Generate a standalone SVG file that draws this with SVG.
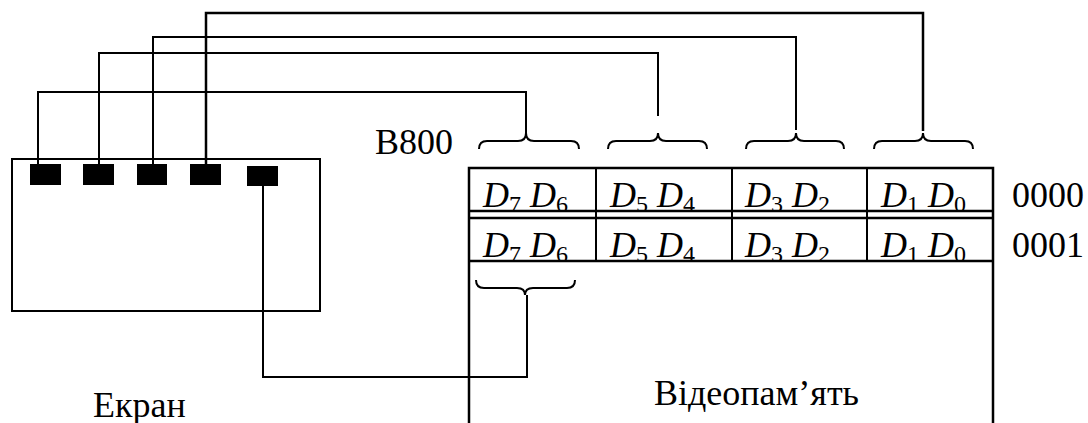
<svg xmlns="http://www.w3.org/2000/svg" width="1088" height="423" viewBox="0 0 1088 423">
<style>
.ln{fill:none;stroke:#000;stroke-width:2}
.tb{fill:none;stroke:#000;stroke-width:2.5}
.br{fill:none;stroke:#000;stroke-width:2}
.t{font-family:"Liberation Serif","Times New Roman",serif;font-size:36px;fill:#000}
.i{font-style:italic}
.s{font-size:24px;font-style:normal}
.sq{fill:#000}
</style>
<rect width="1088" height="423" fill="#fff"/>
<g id="screen">
<rect x="12" y="159" width="308" height="152" class="ln"/>
<rect x="30" y="164" width="31" height="21" class="sq"/>
<rect x="83" y="164" width="31" height="21" class="sq"/>
<rect x="137" y="164" width="30" height="21" class="sq"/>
<rect x="190" y="164" width="31" height="21" class="sq"/>
<rect x="247" y="166" width="31" height="20" class="sq"/>
<text x="93" y="417" class="t">Екран</text>
</g>
<g id="memory">
<path d="M469,423 V168 H993 V423" class="tb"/>
<line x1="469" y1="211" x2="993" y2="211" class="tb"/>
<line x1="469" y1="218" x2="993" y2="218" class="tb"/>
<line x1="469" y1="261" x2="993" y2="261" class="tb"/>
<line x1="596" y1="168" x2="596" y2="261" class="ln"/>
<line x1="732" y1="168" x2="732" y2="261" class="ln"/>
<line x1="867" y1="168" x2="867" y2="261" class="ln"/>
<text x="375" y="154" class="t">B800</text>
<text y="207" class="t"><tspan x="483" class="i">D</tspan><tspan class="s" dy="5">7</tspan><tspan class="i" dy="-5"> D</tspan><tspan class="s" dy="5">6</tspan></text>
<text y="207" class="t"><tspan x="610" class="i">D</tspan><tspan class="s" dy="5">5</tspan><tspan class="i" dy="-5"> D</tspan><tspan class="s" dy="5">4</tspan></text>
<text y="207" class="t"><tspan x="745" class="i">D</tspan><tspan class="s" dy="5">3</tspan><tspan class="i" dy="-5"> D</tspan><tspan class="s" dy="5">2</tspan></text>
<text y="207" class="t"><tspan x="881" class="i">D</tspan><tspan class="s" dy="5">1</tspan><tspan class="i" dy="-5"> D</tspan><tspan class="s" dy="5">0</tspan></text>
<text y="257" class="t"><tspan x="483" class="i">D</tspan><tspan class="s" dy="5">7</tspan><tspan class="i" dy="-5"> D</tspan><tspan class="s" dy="5">6</tspan></text>
<text y="257" class="t"><tspan x="610" class="i">D</tspan><tspan class="s" dy="5">5</tspan><tspan class="i" dy="-5"> D</tspan><tspan class="s" dy="5">4</tspan></text>
<text y="257" class="t"><tspan x="745" class="i">D</tspan><tspan class="s" dy="5">3</tspan><tspan class="i" dy="-5"> D</tspan><tspan class="s" dy="5">2</tspan></text>
<text y="257" class="t"><tspan x="881" class="i">D</tspan><tspan class="s" dy="5">1</tspan><tspan class="i" dy="-5"> D</tspan><tspan class="s" dy="5">0</tspan></text>
<text x="1012" y="207" class="t">0000</text>
<text x="1012" y="257" class="t">0001</text>
<text x="654" y="405" class="t">Відеопам’ять</text>
</g>
<g id="braces">
<path class="br" d="M479,149 Q479,141 487,141 L518,141 Q526,141 526,133 Q526,141 534,141 L571,141 Q579,141 579,149"/>
<path class="br" d="M608,149 Q608,141 616,141 L650,141 Q658,141 658,133 Q658,141 666,141 L699,141 Q707,141 707,149"/>
<path class="br" d="M746,149 Q746,141 754,141 L788,141 Q796,141 796,133 Q796,141 804,141 L836,141 Q844,141 844,149"/>
<path class="br" d="M874,149 Q874,141 882,141 L915,141 Q923,141 923,133 Q923,141 931,141 L965,141 Q973,141 973,149"/>
<path class="br" d="M476,280 Q476,288 484,288 L517,288 Q525,288 525,295 Q525,288 533,288 L567,288 Q575,288 575,280"/>
</g>
<g id="connectors">
<path class="ln" d="M38,164 V92 H526 V133"/>
<path class="ln" d="M99,164 V53 H658 V116"/>
<path class="ln" d="M153,164 V37 H796 V130"/>
<path class="ln" d="M206,164 V13 H923 V131" style="stroke-width:2.5"/>
<path class="ln" d="M263,186 V377 H527 V295"/>
</g>
</svg>
